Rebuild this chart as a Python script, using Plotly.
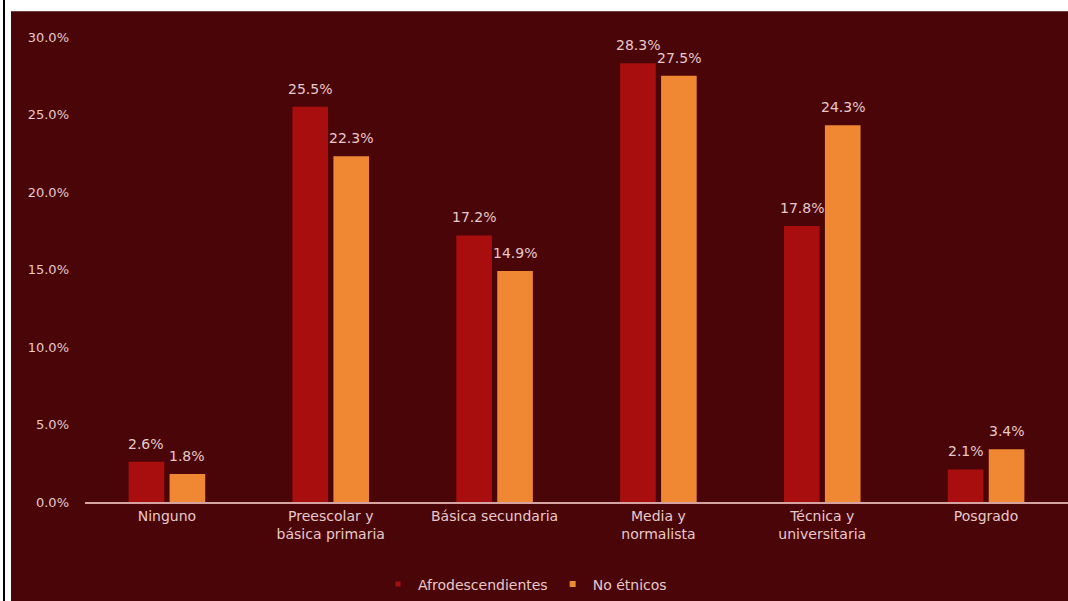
import plotly.graph_objects as go

categories = ["Ninguno", "Preescolar y<br>básica primaria", "Básica secundaria",
              "Media y<br>normalista", "Técnica y<br>universitaria", "Posgrado"]
afro = [0.026, 0.255, 0.172, 0.283, 0.178, 0.021]
no_etnicos = [0.018, 0.223, 0.149, 0.275, 0.243, 0.034]
series_names = ["Afrodescendientes", "No étnicos"]

BG = "#4a0508"
RED = "#a80e0e"
ORANGE = "#f08732"
TXT = "#e8c9c9"
LINE = "#d6a3a3"
FONT = "DejaVu Sans"

W, H = 1068, 601
ML, MR, MT, MB = 85, 0, 37, 96
PW, PH = W - ML - MR, H - MT - MB

fig = go.Figure()
fig.add_trace(go.Bar(x=categories, y=afro, name=series_names[0], marker_color=RED,
                     marker_line_width=0, showlegend=False))
fig.add_trace(go.Bar(x=categories, y=no_etnicos, name=series_names[1], marker_color=ORANGE,
                     marker_line_width=0, showlegend=False))
# legend entries with small square markers
for name, col, sz in ((series_names[0], RED, 5), (series_names[1], ORANGE, 6)):
    fig.add_trace(go.Scatter(x=[None], y=[None], mode="markers", name=name,
                             marker=dict(symbol="square", size=sz, color=col)))

bargap = 0.5
slot = PW / len(categories) * (1 - bargap) / 2
annotations = []
for vals, sign in ((afro, -1), (no_etnicos, 1)):
    for c, v in zip(categories, vals):
        annotations.append(dict(x=c, y=v, xref="x", yref="y", text=f"{v*100:.1f}%",
                                showarrow=False, yanchor="bottom", yshift=8,
                                xshift=sign * slot / 2,
                                font=dict(family=FONT, size=14, color=TXT)))

shapes = [
    dict(type="rect", xref="paper", yref="paper", x0=-1, x1=2,
         y0=1 + (MT - 11) / PH, y1=2, fillcolor="white", line_width=0, layer="above"),
    dict(type="rect", xref="paper", yref="paper", x0=-1, x1=(11 - ML) / PW,
         y0=-1, y1=2, fillcolor="white", line_width=0, layer="above"),
    dict(type="rect", xref="paper", yref="paper", x0=(3 - ML) / PW, x1=(5 - ML) / PW,
         y0=-1, y1=2, fillcolor="black", line_width=0, layer="above"),
]

fig.update_layout(
    autosize=True,
    margin=dict(l=ML, r=MR, t=MT, b=MB),
    paper_bgcolor=BG, plot_bgcolor=BG,
    barmode="group", bargap=bargap, bargroupgap=0.13,
    font=dict(family=FONT, size=14, color=TXT),
    showlegend=True,
    legend=dict(orientation="h", x=(525 - ML) / PW, xanchor="center",
                y=(MT + PH - 588) / PH, yanchor="middle", itemwidth=30,
                font=dict(family=FONT, size=14, color=TXT), bgcolor="rgba(0,0,0,0)"),
    annotations=annotations,
    shapes=shapes,
)
fig.update_yaxes(range=[0, 0.30], dtick=0.05, tickformat=".1%", showgrid=False,
                 zeroline=False, showline=False, ticks="", ticklabelstandoff=15,
                 tickfont=dict(family=FONT, size=13, color=TXT))
fig.update_xaxes(showline=True, linecolor=LINE, linewidth=2, showgrid=False, ticks="",
                 tickfont=dict(family=FONT, size=14, color=TXT))

fig.write_html("out.html", config={"displayModeBar": False, "responsive": True},
               default_width="100vw", default_height="100vh",
               post_script="document.body.style.margin='0';"
                           f"document.body.style.background='{BG}';"
                           f"document.documentElement.style.background='{BG}';"
                           "document.body.style.overflow='hidden';"
                           "document.documentElement.style.overflow='hidden';"
                           "Plotly.Plots.resize(document.getElementById('{plot_id}'));")
